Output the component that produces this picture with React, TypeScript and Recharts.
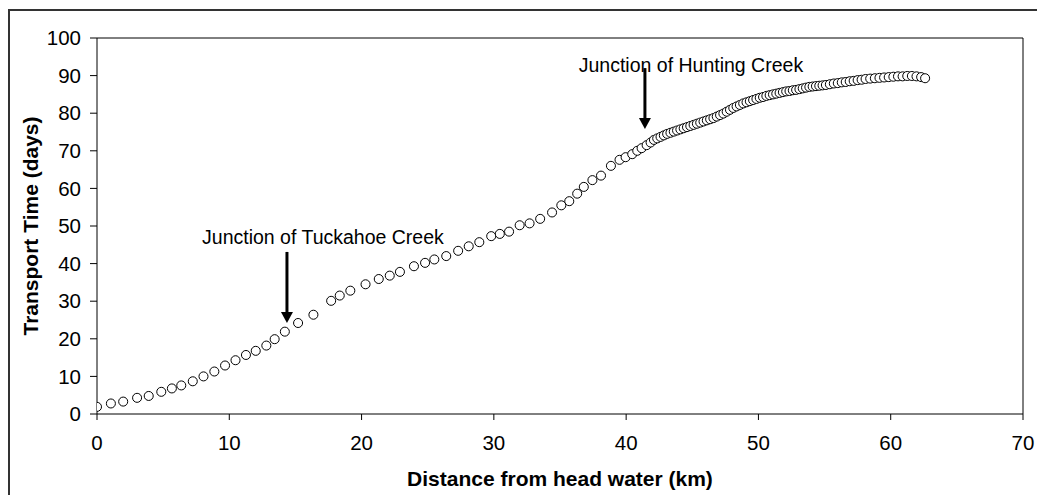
import React from "react";
import {
  ScatterChart,
  Scatter,
  XAxis,
  YAxis,
  ZAxis,
  ReferenceLine,
  ReferenceDot,
  Label,
} from "recharts";

const distanceKm: number[] = [
  0.0, 1.05, 1.98, 3.03, 3.91, 4.86, 5.66, 6.37, 7.24, 8.05, 8.87, 9.68, 10.47,
  11.26, 12.0, 12.8, 13.43, 14.2, 15.2, 16.36, 17.7, 18.35, 19.15, 20.3, 21.3,
  22.13, 22.9, 23.96, 24.8, 25.5, 26.4, 27.3, 28.1, 28.9, 29.8, 30.45, 31.15,
  31.95, 32.7, 33.5, 34.4, 35.1, 35.7, 36.3, 36.8, 37.45, 38.1, 38.85, 39.5,
  39.96, 40.46, 40.84, 41.17, 41.55, 41.85,
  42.1, 42.35, 42.6, 42.85, 43.1, 43.35, 43.6, 43.85, 44.1, 44.35, 44.6, 44.85,
  45.1, 45.35, 45.6, 45.85, 46.1, 46.35, 46.6, 46.85, 47.1, 47.35, 47.6, 47.85,
  48.1, 48.35, 48.6, 48.85, 49.1, 49.35, 49.6, 49.85, 50.1, 50.35, 50.6, 50.85,
  51.1, 51.35, 51.6, 51.85, 52.1, 52.35, 52.6, 52.85, 53.1, 53.35, 53.6, 53.85,
  54.1, 54.35, 54.6, 54.85, 55.1, 55.4, 55.7, 56.0, 56.3, 56.6, 56.9, 57.2,
  57.5, 57.8, 58.1, 58.45, 58.8, 59.15, 59.5, 59.85, 60.2, 60.55, 60.9, 61.25,
  61.6, 61.95, 62.3, 62.6,
];

const transportDays: number[] = [
  1.9, 2.8, 3.3, 4.3, 4.8, 5.9, 6.8, 7.6, 8.7, 10.0, 11.3, 12.9, 14.3, 15.7,
  16.8, 18.2, 19.9, 21.9, 24.2, 26.4, 30.1, 31.5, 32.8, 34.5, 35.9, 36.8, 37.8,
  39.3, 40.2, 41.1, 42.0, 43.4, 44.6, 45.7, 47.3, 47.9, 48.5, 50.2, 50.7, 51.9,
  53.6, 55.5, 56.6, 58.6, 60.4, 62.2, 63.4, 66.0, 67.6, 68.3, 69.1, 70.0, 70.7,
  71.5, 72.2,
  72.9, 73.3, 73.7, 74.1, 74.5, 74.8, 75.1, 75.4, 75.7, 76.0, 76.3, 76.6, 76.9,
  77.2, 77.5, 77.8, 78.1, 78.4, 78.7, 79.1, 79.5, 79.9, 80.4, 80.9, 81.4, 81.8,
  82.2, 82.6, 82.9, 83.2, 83.5, 83.8, 84.1, 84.3, 84.6, 84.8, 85.0, 85.2, 85.4,
  85.6, 85.8, 85.9, 86.1, 86.2, 86.4, 86.6, 86.8, 87.0, 87.1, 87.2, 87.3, 87.4,
  87.5, 87.7, 87.9, 88.0, 88.2, 88.3, 88.5, 88.6, 88.8, 88.9, 89.1, 89.2, 89.3,
  89.4, 89.5, 89.6, 89.7, 89.8, 89.8, 89.9, 89.9, 89.8, 89.6, 89.3,
];

const xTicks: number[] = [0, 10, 20, 30, 40, 50, 60, 70];
const yTicks: number[] = [0, 10, 20, 30, 40, 50, 60, 70, 80, 90, 100];

const xTitle = "Distance from head water (km)";
const yTitle = "Transport Time (days)";
const tuckahoeText = "Junction of Tuckahoe Creek";
const huntingText = "Junction of Hunting Creek";

const data = distanceKm.map((d, i) => ({ d, t: transportDays[i] }));

const FONT = "'Liberation Sans', Arial, sans-serif";

const Arrow = (props: any) => {
  const { x1, y1, x2, y2 } = props;
  if (x1 == null) return null;
  const head = 11;
  const hw = 6;
  return (
    <g>
      <line x1={x1} y1={y1} x2={x2} y2={y2 - head + 1} stroke="#000" strokeWidth={3} />
      <polygon
        points={`${x2 - hw},${y2 - head} ${x2 + hw},${y2 - head} ${x2},${y2}`}
        fill="#000"
      />
    </g>
  );
};

const makeText = (txt: string) => (props: any) => {
  const { cx, cy } = props;
  if (cx == null) return null;
  return (
    <text
      x={cx}
      y={cy}
      textAnchor="middle"
      dominantBaseline="central"
      fontFamily={FONT}
      fontSize={19.5}
      fill="#000"
    >
      {txt}
    </text>
  );
};

const XTitle = (props: any) => {
  const vb = props.viewBox || {};
  return (
    <text
      x={vb.x + vb.width / 2}
      y={vb.y + 64}
      textAnchor="middle"
      dominantBaseline="central"
      fontFamily={FONT}
      fontWeight="bold"
      fontSize={21}
      fill="#000"
    >
      {xTitle}
    </text>
  );
};

const YTitle = (props: any) => {
  const vb = props.viewBox || {};
  const x = vb.x + 22;
  const y = vb.y + vb.height / 2;
  return (
    <text
      x={x}
      y={y}
      transform={`rotate(-90, ${x}, ${y})`}
      textAnchor="middle"
      dominantBaseline="central"
      fontFamily={FONT}
      fontWeight="bold"
      fontSize={21}
      fill="#000"
    >
      {yTitle}
    </text>
  );
};

export default function App() {
  return (
    <div
      style={{
        position: "relative",
        width: 1029,
        height: 487,
        marginLeft: 8,
        marginTop: 8,
      }}
    >
      <style>{`html,body{margin:0;padding:0;overflow:hidden;}`}</style>
      <div
        style={{
          position: "absolute",
          left: 0,
          top: 1,
          width: 1029,
          height: 486,
          borderLeft: "2px solid #333",
          borderTop: "2px solid #333",
          boxSizing: "border-box",
        }}
      />
      <div style={{ position: "absolute", left: 0, top: 0 }}>
        <ScatterChart
          width={1029}
          height={487}
          margin={{ top: 30, right: 14, bottom: 0, left: 0 }}
        >
          <XAxis
            type="number"
            dataKey="d"
            domain={[0, 70]}
            ticks={xTicks}
            interval={0}
            allowDataOverflow
            height={81}
            tickSize={6}
            tickMargin={15}
            axisLine={{ stroke: "#000", strokeWidth: 1 }}
            tickLine={{ stroke: "#000", strokeWidth: 1 }}
            tick={{ fill: "#000", fontSize: 20.5, fontFamily: FONT }}
          >
            <Label content={<XTitle />} />
          </XAxis>
          <YAxis
            type="number"
            dataKey="t"
            domain={[0, 100]}
            ticks={yTicks}
            interval={0}
            allowDataOverflow
            width={89}
            tickSize={7}
            tickMargin={9}
            axisLine={{ stroke: "#000", strokeWidth: 1 }}
            tickLine={{ stroke: "#000", strokeWidth: 1 }}
            tick={{ fill: "#000", fontSize: 20.5, fontFamily: FONT }}
          >
            <Label content={<YTitle />} />
          </YAxis>
          <ZAxis range={[50, 50]} />
          <ReferenceLine y={100} stroke="#000" strokeWidth={1} />
          <ReferenceLine x={70} stroke="#000" strokeWidth={1} />
          <Scatter
            data={data}
            fill="#fff"
            stroke="#000"
            strokeWidth={1}
            isAnimationActive={false}
          />
          <ReferenceLine
            segment={[
              { x: 14.36, y: 43.1 },
              { x: 14.36, y: 24.2 },
            ]}
            shape={Arrow}
          />
          <ReferenceLine
            segment={[
              { x: 41.42, y: 92.0 },
              { x: 41.42, y: 75.8 },
            ]}
            shape={Arrow}
          />
          <ReferenceDot x={17.08} y={47.1} r={0} shape={makeText(tuckahoeText)} />
          <ReferenceDot x={44.9} y={92.8} r={0} shape={makeText(huntingText)} />
        </ScatterChart>
      </div>
    </div>
  );
}
